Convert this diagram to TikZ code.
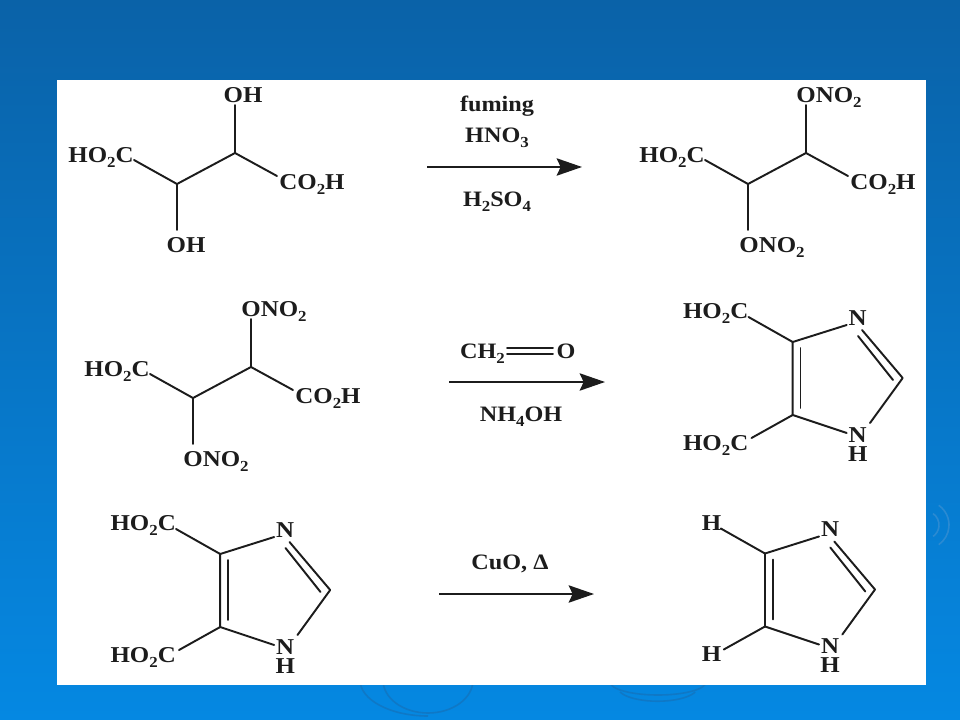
\documentclass[tikz,border=0pt]{standalone}
\usepackage{fontspec}
\setmainfont[FakeStretch=1.1]{Liberation Serif}
\usetikzlibrary{arrows.meta}
\definecolor{inkc}{HTML}{1C1C1C}
\definecolor{bgtop}{HTML}{0A62A8}
\definecolor{bgbot}{HTML}{0588E2}
\definecolor{rip}{HTML}{0F78C6}
\definecolor{ripl}{HTML}{2A8AD2}
\newcommand{\sbs}[1]{\raisebox{-0.22em}{\fontsize{11.5}{11.5}\selectfont #1}}
\newcommand{\COOHa}{HO\sbs{2}C}
\newcommand{\COOHb}{CO\sbs{2}H}
\newcommand{\ONOO}{ONO\sbs{2}}
\tikzset{
  lab/.style={anchor=base,inner sep=0pt,yshift=-5.6pt,text=inkc,font=\fontsize{17}{18}\selectfont\bfseries},
  labstack/.style={anchor=center,inner sep=0pt,align=center,text=inkc,font=\fontsize{17}{14.25}\selectfont\bfseries},
  reag/.style={lab,font=\fontsize{16.5}{18}\selectfont\bfseries},
  bond/.style={draw=inkc,line width=1.45pt,line cap=round,line join=round},
  rxn/.style={draw=inkc,line width=1.5pt,-{Stealth[length=19pt,width=13pt,inset=3pt]}},
  ripple/.style={draw=rip,line width=1.2pt},
  ripplel/.style={draw=ripl,line width=1.2pt}
}
% tartaric-type skeleton
\newcommand{\Chain}[7]{%
\begin{scope}[shift={(#2,#3)}]
  \coordinate (#1B) at (235,153);
  \coordinate (#1A) at (177,184);
  \coordinate (#1t) at (235,105);
  \coordinate (#1b) at (177,230);
  \coordinate (#1l) at (134,160);
  \coordinate (#1r) at (277,176);
  \node[lab] (#1L) at (101,155) {\COOHa};
  \node[lab] (#1R) at (312,182) {\COOHb};
  \node[lab] (#1T) at (#6,95) {#4};
  \node[lab] (#1D) at (#7,245) {#5};
  \draw[bond] (#1t) -- (#1B) -- (#1A) -- (#1l);
  \draw[bond] (#1B) -- (#1r);
  \draw[bond] (#1A) -- (#1b);
\end{scope}}
% imidazole skeleton; #4,#5 substituent labels, #6 label x
\newcommand{\Imid}[6]{%
\begin{scope}[shift={(#2,#3)}]
  \coordinate (#1c4) at (792.7,342);
  \coordinate (#1c5) at (792.7,415);
  \coordinate (#1c2) at (902.7,378);
  \coordinate (#1n3a) at (846.7,325);
  \coordinate (#1n1a) at (846.7,433);
  \coordinate (#1n1b) at (870,423);
  \coordinate (#1n3b) at (862,330);
  \coordinate (#1n3c) at (858,336);
  \coordinate (#1c2i) at (893,380);
  \coordinate (#1i4) at (800.5,348);
  \coordinate (#1i5) at (800.5,408);
  \coordinate (#1st) at (748.5,317);
  \coordinate (#1sb) at (751.5,438);
  \node[lab] (#1N3) at (857.7,318) {N};
  \node[labstack] (#1N1) at (857.7,444.5) {N\\H};
  \node[lab] (#1St) at (#6,311) {#4};
  \node[lab] (#1Sb) at (#6,443) {#5};
  \draw[bond] (#1n3a) -- (#1c4) -- (#1c5) -- (#1n1a);
  \draw[bond] (#1n1b) -- (#1c2) -- (#1n3b);
  \draw[bond] (#1c2i) -- (#1n3c);
  \draw[bond] (#1i4) -- (#1i5);
  \draw[bond] (#1st) -- (#1c4);
  \draw[bond] (#1sb) -- (#1c5);
\end{scope}}
\begin{document}
\begin{tikzpicture}[x=0.75pt,y=-0.75pt]
\useasboundingbox (0,0) rectangle (960,720);
% background
\shade[top color=bgtop,bottom color=bgbot] (0,0) rectangle (960,720);
% right ripples
\foreach \r in {14,24}{
  \draw[ripplel] (925,525) ++(-55:\r) arc[start angle=-55,end angle=55,radius=\r];
}
% bottom ripples
\draw[ripple] (383,680) arc[start angle=180,end angle=360,x radius=45,y radius=-33];
\draw[ripple] (360,680) arc[start angle=180,end angle=270,x radius=68,y radius=-36];
\draw[ripple] (507,684) arc[start angle=0,end angle=50,x radius=40,y radius=-33];
\draw[ripple] (550,684) arc[start angle=0,end angle=55,x radius=36,y radius=-36];
\draw[ripple] (610,682) arc[start angle=180,end angle=360,x radius=48,y radius=-13];
\draw[ripple] (620,692) arc[start angle=200,end angle=340,x radius=40,y radius=-14];
\fill[white] (57,80) rectangle (926,685);
% row 1
\Chain{a}{0}{0}{OH}{OH}{243}{186}
\Chain{b}{571}{0}{\ONOO}{\ONOO}{258}{201}
\node[reag] (r1a) at (497,104) {fuming};
\node[reag] (r1b) at (497,135) {HNO\sbs{3}};
\node[reag] (r1c) at (497,199) {H\sbs{2}SO\sbs{4}};
\coordinate (a1s) at (427,167);
\coordinate (a1e) at (582,167);
\draw[rxn] (a1s) -- (a1e);
% row 2
\Chain{c}{16}{214}{\ONOO}{\ONOO}{258}{200}
\Imid{d}{0}{0}{\COOHa}{\COOHa}{715.7}
\node[reag] (r2a) at (482.5,351) {CH\sbs{2}};
\node[reag] (r2b) at (566,351) {O};
\coordinate (dbla) at (507,348);
\coordinate (dblb) at (553,348);
\coordinate (dblc) at (507,354);
\coordinate (dbld) at (553,354);
\draw[bond] (dbla) -- (dblb);
\draw[bond] (dblc) -- (dbld);
\node[reag] (r2c) at (521,414) {NH\sbs{4}OH};
\coordinate (a2s) at (449,382);
\coordinate (a2e) at (605,382);
\draw[rxn] (a2s) -- (a2e);
% row 3
\Imid{e}{-572.5}{212}{\COOHa}{\COOHa}{715.7}
\Imid{f}{-27.7}{211.5}{}{}{715.7}
\node[lab] (ht) at (711.5,523) {H};
\node[lab] (hb) at (711.5,654) {H};
\node[reag] (r3a) at (510,562) {CuO, Δ};
\coordinate (a3s) at (439,594);
\coordinate (a3e) at (594,594);
\draw[rxn] (a3s) -- (a3e);
\end{tikzpicture}
\end{document}
